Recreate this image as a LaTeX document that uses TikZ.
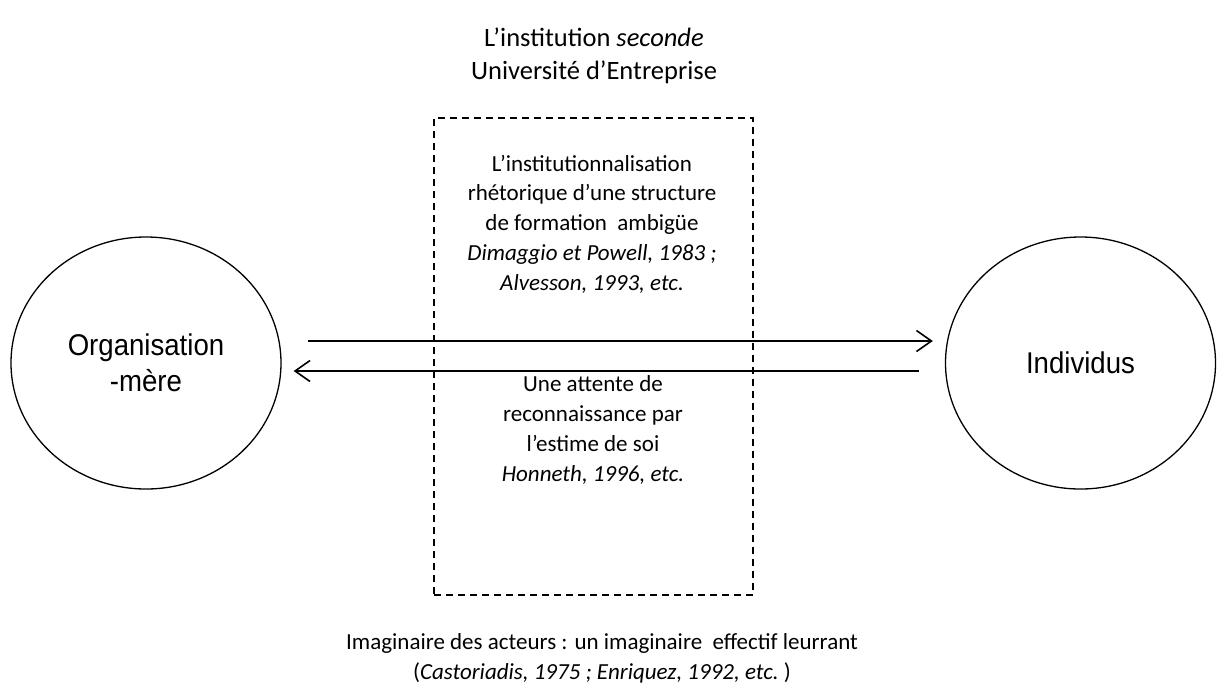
\documentclass[tikz,border=0pt]{standalone}
\usepackage{fontspec}
\setmainfont{Carlito}
\newfontfamily\circfont[FakeStretch=0.92]{Liberation Sans}
\usetikzlibrary{shapes.geometric,arrows.meta}
\begin{document}
\begin{tikzpicture}[x=1pt,y=-1pt,
  bubble/.style={draw=black,line width=1.3pt,ellipse,minimum width=270pt,minimum height=252pt,inner sep=0pt,
    align=center,font=\circfont\fontsize{30}{36}\selectfont},
  dbox/.style={draw=black,line width=1.4pt,dash pattern=on 7pt off 5pt,minimum width=319pt,minimum height=477pt,inner sep=0pt},
  txt/.style={align=center,inner sep=0pt,anchor=base,font=\fontsize{23}{29.7}\selectfont},
  ttl/.style={align=center,inner sep=0pt,anchor=base,font=\fontsize{26.5}{33}\selectfont},
  arr/.style={line width=1.8pt,-{Straight Barb[length=15pt,width=21pt,line width=1.6pt]}}]
\fill[white] (0,0) rectangle (1217,686);
\useasboundingbox (0,0) rectangle (1217,686);
\node[ttl] (title) at (594,79) {L’institution \textit{seconde}\\Université d’Entreprise};
\node[dbox] (box) at (593.5,356.5) {};
\node[bubble] (org) at (146,363) {Organisation\\-mère};
\node[bubble] (ind) at (1080.5,363) {Individus};
\node[txt] (upper) at (592,290) {L’institutionnalisation\\rhétorique d’une structure\\de formation~ ambigüe\\\textit{Dimaggio et Powell, 1983 ;}\\\textit{Alvesson, 1993, etc.}};
\node[txt] (lower) at (593,481) {Une attente de\\reconnaissance par\\l’estime de soi\\\textit{Honneth, 1996, etc.}};
\node[txt] (foot) at (602,679.5) {Imaginaire des acteurs : un imaginaire~ effectif leurrant\\(\textit{Castoriadis, 1975 ; Enriquez, 1992, etc.~})};
\draw[arr] ([xshift=26pt,yshift=22pt]org.east) -- ([xshift=-12pt,yshift=22pt]ind.west);
\draw[arr] ([xshift=-26pt,yshift=-8pt]ind.west) -- ([xshift=12pt,yshift=-8pt]org.east);
\end{tikzpicture}
\end{document}
